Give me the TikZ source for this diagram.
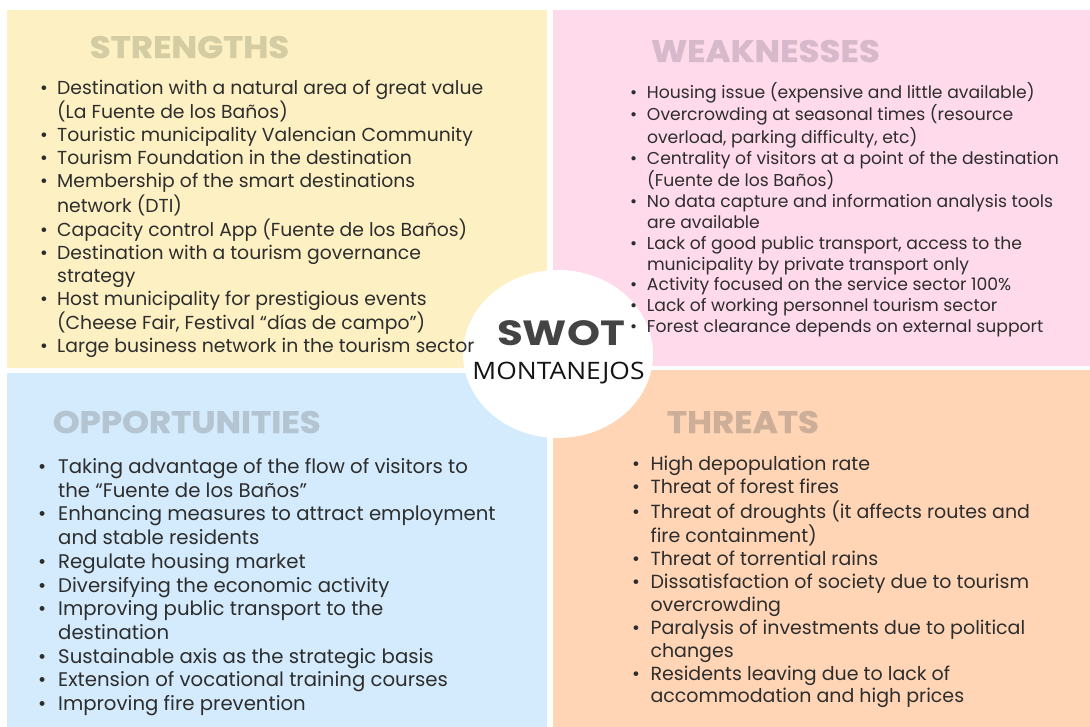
\documentclass[tikz,border=0pt]{standalone}
\usepackage{fontspec}
\setmainfont{Poppins}
\newfontfamily\osans{Open Sans}
\usetikzlibrary{shapes.geometric}
\definecolor{cy}{RGB}{253,240,195}
\definecolor{cp}{RGB}{255,218,235}
\definecolor{cb}{RGB}{211,235,252}
\definecolor{co}{RGB}{255,213,182}
\definecolor{ty}{RGB}{212,204,162}
\definecolor{tp}{RGB}{214,185,203}
\definecolor{tb}{RGB}{180,196,208}
\definecolor{to}{RGB}{205,174,152}
\definecolor{body}{RGB}{45,45,45}
\newcommand\bl{\textbullet}
\newcommand\ttl[1]{\scalebox{1.1}[1]{\addfontfeature{FakeBold=1}#1}}
\tikzset{
  title/.style={anchor=base west, inner sep=0, font=\bfseries\fontsize{31}{33}\selectfont},
  listbox/.style={anchor=base west, inner sep=0, text=body},
}
\begin{document}
\begin{tikzpicture}[x=1pt,y=-1pt]
\useasboundingbox (0,0) rectangle (1090,727);
\fill[white] (0,0) rectangle (1090,727);
\fill[cy] (7,10) rectangle (547,368.5);
\fill[cp] (553,10) rectangle (1090,366);
\fill[cb] (7,372.5) rectangle (547,727);
\fill[co] (553,370) rectangle (1090,727);
\node[ellipse, fill=white, minimum width=190, minimum height=168, inner sep=0] (circ) at (558,354) {};

\node[title, text=ty] (st) at (89.5,58) {\ttl{STRENGTHS}};
\node[title, text=tp] (wt) at (651,62) {\ttl{WEAKNESSES}};
\node[title, text=tb] (ot) at (52.6,433) {\ttl{OPPORTUNITIES}};
\node[title, text=to] (tt) at (666.7,433) {\ttl{THREATS}};

\node[listbox, font=\fontsize{18.8}{22.9}\selectfont] (sl) at (40,94.5) {\begin{tabular}[t]{@{}p{17pt}@{}l@{}}
\bl & Destination with a natural area of great value\\
 & (La Fuente de los Baños)\\
\bl & Touristic municipality Valencian Community\\
\bl & Tourism Foundation in the destination\\
\bl & Membership of the smart destinations\\
 & network (DTI)\\
\bl & Capacity control App (Fuente de los Baños)\\
\bl & Destination with a tourism governance\\
 & strategy\\
\bl & Host municipality for prestigious events\\
 & (Cheese Fair, Festival “días de campo”)\\
\bl & Large business network in the tourism sector
\end{tabular}};

\node[listbox, font=\fontsize{17.2}{20.9}\selectfont] (wl) at (630,98.5) {\begin{tabular}[t]{@{}p{16.8pt}@{}l@{}}
\bl & Housing issue (expensive and little available)\\
\bl & Overcrowding at seasonal times (resource\\
 & overload, parking difficulty, etc)\\
\bl & Centrality of visitors at a point of the destination\\
 & (Fuente de los Baños)\\
\bl & No data capture and information analysis tools\\
 & are available\\
\bl & Lack of good public transport, access to the\\
 & municipality by private transport only\\
\bl & Activity focused on the service sector 100\%\\
\bl & Lack of working personnel tourism sector\\
\bl & Forest clearance depends on external support
\end{tabular}};

\node[listbox, font=\fontsize{19.7}{23.7}\selectfont] (ol) at (38,473.5) {\begin{tabular}[t]{@{}p{20pt}@{}l@{}}
\bl & Taking advantage of the flow of visitors to\\
 & the “Fuente de los Baños”\\
\bl & Enhancing measures to attract employment\\
 & and stable residents\\
\bl & Regulate housing market\\
\bl & Diversifying the economic activity\\
\bl & Improving public transport to the\\
 & destination\\
\bl & Sustainable axis as the strategic basis\\
\bl & Extension of vocational training courses\\
\bl & Improving fire prevention
\end{tabular}};

\node[listbox, font=\fontsize{19}{22.9}\selectfont] (tl) at (632,470.5) {\begin{tabular}[t]{@{}p{18.3pt}@{}l@{}}
\bl & High depopulation rate\\
\bl & Threat of forest fires\\
\bl & Threat of droughts (it affects routes and\\
 & fire containment)\\
\bl & Threat of torrential rains\\
\bl & Dissatisfaction of society due to tourism\\
 & overcrowding\\
\bl & Paralysis of investments due to political\\
 & changes\\
\bl & Residents leaving due to lack of\\
 & accommodation and high prices
\end{tabular}};

\node[anchor=base, inner sep=0, text={rgb,255:red,68;green,68;blue,68}, font=\bfseries\fontsize{35}{40}\selectfont] (swot) at (561,345) {\scalebox{1.2}[1]{SWOT}};
\node[anchor=base, inner sep=0, text={rgb,255:red,20;green,20;blue,20}, font=\osans\fontsize{24}{28}\selectfont] (mont) at (558.5,380) {\scalebox{1.1}[1]{MONTANEJOS}};
\end{tikzpicture}
\end{document}
